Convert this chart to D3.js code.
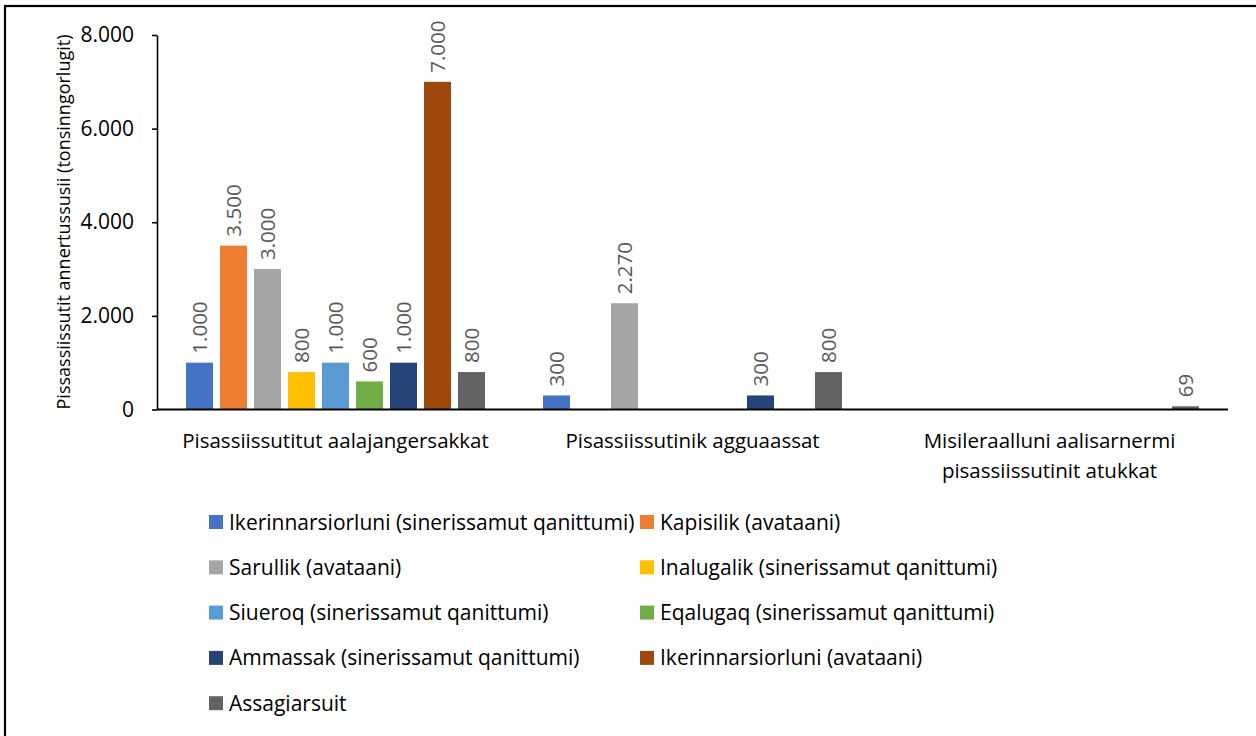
<!DOCTYPE html>
<html><head><meta charset="utf-8">
<script src="https://cdn.jsdelivr.net/npm/d3@7"></script>
<style>body{margin:0;background:#fff}svg{display:block}</style>
</head><body>
<svg id="c" width="1256" height="736"></svg>
<script>
const categories = [
  ["Pisassiissutitut aalajangersakkat"],
  ["Pisassiissutinik agguaassat"],
  ["Misileraalluni aalisarnermi", "pisassiissutinit atukkat"]
];
const categoryKeys = ["c1","c2","c3"];
const seriesNames = [
  "Ikerinnarsiorluni (sinerissamut qanittumi)",
  "Kapisilik (avataani)",
  "Sarullik (avataani)",
  "Inalugalik (sinerissamut qanittumi)",
  "Siueroq (sinerissamut qanittumi)",
  "Eqalugaq (sinerissamut qanittumi)",
  "Ammassak (sinerissamut qanittumi)",
  "Ikerinnarsiorluni (avataani)",
  "Assagiarsuit"
];
const seriesColors = ["#4472C4","#ED7D31","#A5A5A5","#FFC000","#5B9BD5","#70AD47","#264478","#9E480E","#636363"];
// values per series: [cat1, cat2, cat3]; null = no bar
const values = [
  [1000, 300, null],
  [3500, null, null],
  [3000, 2270, null],
  [800, null, null],
  [1000, null, null],
  [600, null, null],
  [1000, 300, null],
  [7000, null, null],
  [800, 800, 69]
];
const yTicks = [0, 2000, 4000, 6000, 8000];
const yTitle = "Pissassiissutit annertussusii (tonsinngorlugit)";

const svg = d3.select("#c");
const FONT = "'Open Sans', sans-serif";
const fmt = v => d3.format(",")(v).replace(/,/g, ".");

// border
svg.append("rect").attr("x",5).attr("y",6).attr("width",1260).attr("height",740)
  .attr("fill","none").attr("stroke","#000").attr("stroke-width",2.2);

const x0 = d3.scaleBand().domain(categoryKeys).range([157, 1228]);
const bw = x0.bandwidth();
const x1 = d3.scaleBand().domain(d3.range(seriesNames.length)).range([0, bw])
  .paddingInner(0.206).paddingOuter(0.853);
const y = d3.scaleLinear().domain([0, 8000]).range([409.5, 35]);

// y axis
const yAxis = svg.append("g").attr("transform","translate(157,0)")
  .call(d3.axisLeft(y).tickValues(yTicks).tickSize(5).tickSizeOuter(0).tickFormat(fmt).tickPadding(18));
yAxis.select(".domain").attr("stroke","#000").attr("stroke-width",1.6);
yAxis.selectAll(".tick line").attr("stroke","#000").attr("stroke-width",1.6);
yAxis.selectAll(".tick text").attr("font-family",FONT).attr("font-size",21).attr("fill","#000");

// bars
const barData = [];
values.forEach((vals, s) => vals.forEach((v, c) => {
  if (v !== null) barData.push({s, c, v});
}));
const gBars = svg.append("g");
gBars.selectAll("rect").data(barData).join("rect")
  .attr("x", d => x0(categoryKeys[d.c]) + x1(d.s))
  .attr("width", x1.bandwidth())
  .attr("y", d => y(d.v))
  .attr("height", d => y(0) - y(d.v))
  .attr("fill", d => seriesColors[d.s]);

// data labels
gBars.selectAll("text").data(barData).join("text")
  .attr("transform", d => {
    const cx = x0(categoryKeys[d.c]) + x1(d.s) + x1.bandwidth()/2;
    return `translate(${cx + 7.5},${y(d.v) - 9}) rotate(-90)`;
  })
  .attr("font-family",FONT).attr("font-size",20.5).attr("fill","#595959")
  .text(d => fmt(d.v));

// baseline
svg.append("line").attr("x1",157).attr("x2",1228).attr("y1",y(0)).attr("y2",y(0))
  .attr("stroke","#000").attr("stroke-width",1.8);

// category labels
const gCat = svg.append("g");
categories.forEach((lines, i) => {
  const cx = x0(categoryKeys[i]) + bw/2;
  lines.forEach((ln, j) => {
    gCat.append("text").attr("x", cx).attr("y", 448 + j*30)
      .attr("text-anchor","middle").attr("font-family",FONT).attr("font-size",20.5).attr("fill","#000")
      .text(ln);
  });
});

// y title
svg.append("text").attr("transform","translate(70,222) rotate(-90)")
  .attr("text-anchor","middle").attr("font-family",FONT).attr("font-size",18).attr("fill","#000")
  .text(yTitle);

// legend
const gLeg = svg.append("g");
seriesNames.forEach((name, i) => {
  const col = i % 2, row = Math.floor(i / 2);
  const lx = col === 0 ? 209 : 640;
  const ly = 522 + row * 45.3;
  gLeg.append("rect").attr("x", lx).attr("y", ly - 7).attr("width", 14).attr("height", 14)
    .attr("fill", seriesColors[i]);
  gLeg.append("text").attr("x", lx + 20).attr("y", ly + 7.5)
    .attr("font-family",FONT).attr("font-size",21).attr("fill","#000").text(name);
});
</script>
</body></html>
